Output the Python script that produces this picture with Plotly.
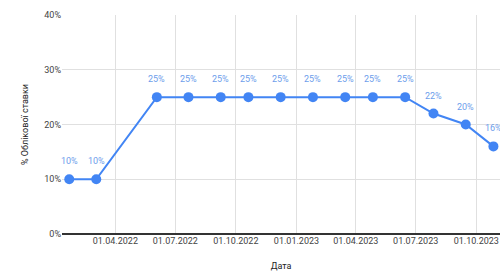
import plotly.graph_objects as go

dates = ["2022-01-21", "2022-03-03", "2022-06-03", "2022-07-21", "2022-09-08",
         "2022-10-20", "2022-12-08", "2023-01-26", "2023-03-16", "2023-04-27",
         "2023-06-15", "2023-07-28", "2023-09-15", "2023-10-27"]
rates = [10, 10, 25, 25, 25, 25, 25, 25, 25, 25, 25, 22, 20, 16]
labels = [f"{r}%" for r in rates]

x_title = "Дата"
y_title = "% Облікової ставки"

fig = go.Figure()
fig.add_trace(go.Scatter(
    x=dates, y=rates, mode="lines+markers",
    line=dict(color="#4285F4", width=2),
    marker=dict(color="#4285F4", size=10),
    cliponaxis=False,
    hoverinfo="skip",
))

for d, r, t in zip(dates, rates, labels):
    fig.add_annotation(
        x=d, y=r, text=t, showarrow=False, yshift=18,
        font=dict(family="Roboto, Arial", size=9, color="#6d9eeb"),
    )

fig.update_layout(
    width=500, height=271,
    margin=dict(l=62, r=0, t=15, b=37),
    paper_bgcolor="white", plot_bgcolor="white",
    font=dict(family="Roboto, Arial", size=9, color="#444"),
    showlegend=False,
    xaxis=dict(
        type="date", automargin=False,
        range=["2022-01-10", "2023-11-06"],
        tick0="2022-01-01", dtick="M3", tickformat="%d.%m.%Y",
        showgrid=True, gridcolor="#e0e0e0", gridwidth=1,
        zeroline=False, showline=False, ticks="",
        tickfont=dict(size=9, color="#444"),
        title=dict(text=x_title, font=dict(size=9, color="#222"), standoff=17),
    ),
    yaxis=dict(
        range=[0, 40], dtick=10, ticksuffix="%", automargin=False,
        showgrid=True, gridcolor="#e0e0e0", gridwidth=1,
        zeroline=True, zerolinecolor="#333", zerolinewidth=1.5,
        ticks="", tickfont=dict(size=9, color="#444"),
        title=dict(text=y_title, font=dict(size=9, color="#222"), standoff=14),
    ),
)

fig.write_html("out.html", config={"displayModeBar": False},
               post_script="document.body.style.margin='0';")
